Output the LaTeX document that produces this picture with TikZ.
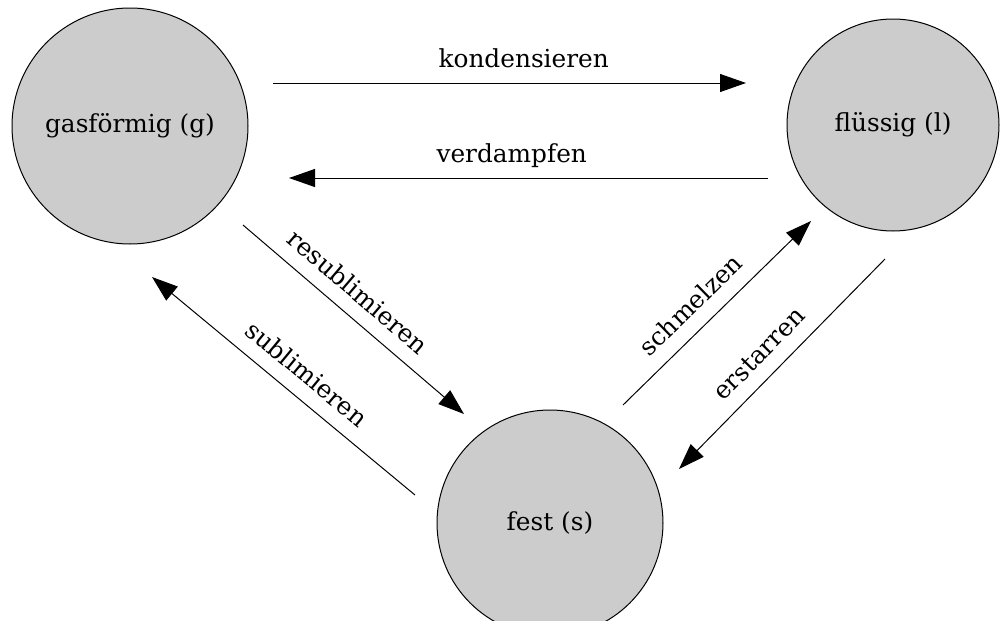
\documentclass[tikz,border=0pt]{standalone}
\usepackage{fontspec}
\setmainfont{DejaVu Serif}
\usetikzlibrary{arrows.meta}

\tikzset{
  phase/.style={circle, draw=black, fill=black!20, line width=0.5pt, inner sep=0pt},
  trans/.style={line width=0.5pt, -{Triangle[length=13pt, width=9pt]}},
  translabel/.style={sloped, above=4pt, text depth=0pt, inner sep=3.3pt}
}

\begin{document}
\begin{tikzpicture}[x=0.5pt, y=-0.5pt, font=\fontsize{12.4}{14}\selectfont]
    % Fix the size of the picture
    \useasboundingbox (0,0) rectangle (1002,621);

    % The three phases
    \node[phase, minimum size=118pt] (gas) at (130,126) {gasförmig (g)};
    \node[phase, minimum size=106pt] (fluessig) at (893,125) {flüssig (l)};
    \node[phase, minimum size=113pt] (fest) at (550,523) {fest (s)};

    % End points of the arrows between gas and liquid
    \coordinate (kondA) at (273,83);
    \coordinate (kondB) at (746,83);
    \coordinate (verdA) at (768,178);
    \coordinate (verdB) at (289,178);

    % End points of the arrows between gas and solid
    \coordinate (resubA) at (243,225);
    \coordinate (resubB) at (464,414);
    \coordinate (sublA) at (415,495);
    \coordinate (sublB) at (152,277);

    % End points of the arrows between solid and liquid
    \coordinate (schmA) at (623,405);
    \coordinate (schmB) at (811,221);
    \coordinate (erstA) at (885,259);
    \coordinate (erstB) at (679,469);

    % Arrows with their labels
    \draw[trans] (kondA) -- node[translabel, pos=0.53] {kondensieren} (kondB);
    \draw[trans] (verdA) -- node[translabel, pos=0.535] {verdampfen} (verdB);
    \draw[trans] (resubA) -- node[translabel, pos=0.45] {resublimieren} (resubB);
    \draw[trans] (sublA) -- node[translabel, pos=0.47] {sublimieren} (sublB);
    \draw[trans] (schmA) -- node[translabel, pos=0.45] {schmelzen} (schmB);
    \draw[trans] (erstA) -- node[translabel, pos=0.53] {erstarren} (erstB);
  \end{tikzpicture}
\end{document}
